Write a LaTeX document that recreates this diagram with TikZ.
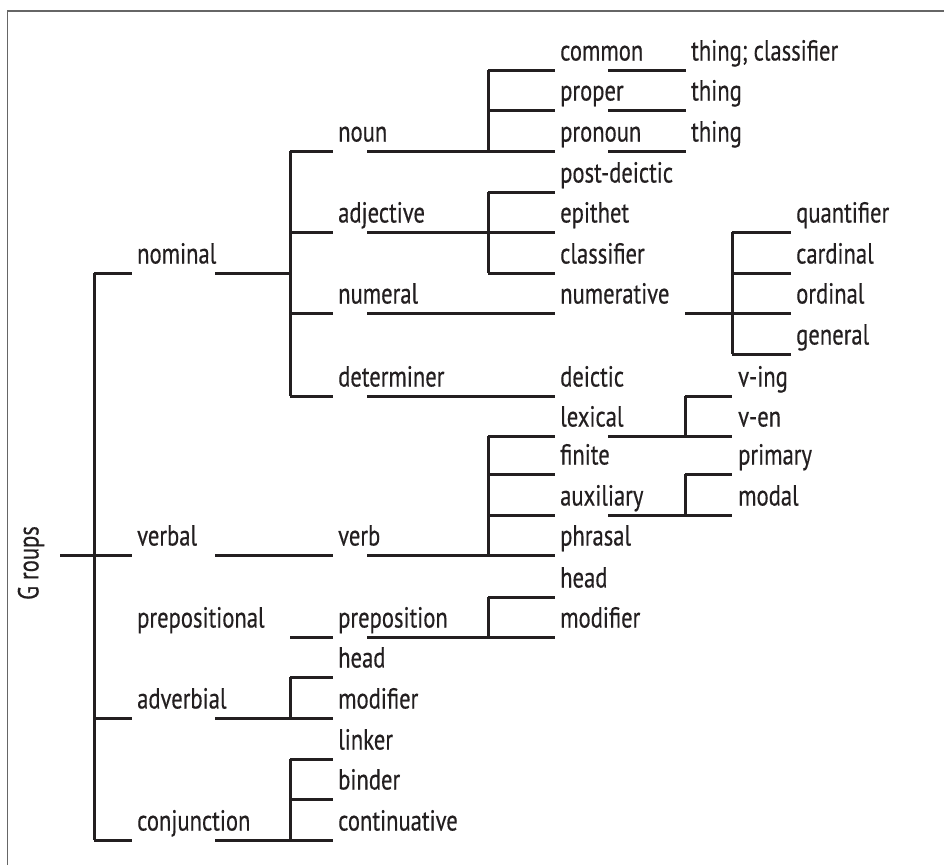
\documentclass[tikz,border=0pt]{standalone}
\usepackage{fontspec}
\setmainfont[FakeStretch=0.78,FakeBold=0.4]{PT Sans}
\definecolor{ink}{HTML}{231F20}
\definecolor{frame}{HTML}{666666}
\begin{document}
\begin{tikzpicture}[x=1pt,y=-1pt,
  lbl/.style={anchor=base west,inner sep=0pt,text=ink,font=\fontsize{29}{32}\selectfont},
  tree/.style={draw=ink,line width=3pt},
  border/.style={draw=frame,line width=1.8pt}]
\useasboundingbox (0,0) rectangle (944,865);
% frame
\draw[border] (7.5,865) -- (7.5,11) -- (944,11);
% title
\node[lbl,anchor=center,rotate=90] (groups) at (31,563) {G roups};
% label placement: baseline 9.5 above line
\newcommand{\Lb}[4]{\node[lbl] (#1) at (#2,#3-9.5) {#4};}
% column A labels
\Lb{nominal}{137}{273}{nominal}
\Lb{verbal}{137}{555}{verbal}
\Lb{prepositional}{137}{637}{prepositional}
\Lb{adverbial}{137}{718}{adverbial}
\Lb{conjunction}{137}{840}{conjunction}
% column B labels
\Lb{noun}{338}{151}{noun}
\Lb{adjective}{338}{232}{adjective}
\Lb{numeral}{338}{313}{numeral}
\Lb{determiner}{338}{396}{determiner}
\Lb{verb}{338}{555}{verb}
\Lb{preposition}{338}{637}{preposition}
\Lb{advhead}{338}{677}{head}
\Lb{advmod}{338}{718}{modifier}
\Lb{linker}{338}{759}{linker}
\Lb{binder}{338}{799}{binder}
\Lb{continuative}{338}{840}{continuative}
% column C labels
\Lb{common}{560}{70}{common}
\Lb{proper}{560}{110}{proper}
\Lb{pronoun}{560}{151}{pronoun}
\Lb{postdeictic}{560}{192}{post-deictic}
\Lb{epithet}{560}{232}{epithet}
\Lb{classifier}{560}{273}{classifier}
\Lb{numerative}{560}{313}{numerative}
\Lb{deictic}{560}{396}{deictic}
\Lb{lexical}{560}{436}{lexical}
\Lb{finite}{560}{474}{finite}
\Lb{auxiliary}{560}{515}{auxiliary}
\Lb{phrasal}{560}{555}{phrasal}
\Lb{prephead}{560}{597}{head}
\Lb{prepmod}{560}{637}{modifier}
% column D labels
\Lb{thingA}{691}{70}{thing; classifier}
\Lb{thingB}{691}{110}{thing}
\Lb{thingC}{691}{151}{thing}
% column E labels
\Lb{ving}{738}{396}{v-ing}
\Lb{ven}{738}{436}{v-en}
\Lb{primary}{738}{474}{primary}
\Lb{modal}{738}{515}{modal}
% column F labels
\Lb{quantifier}{796}{232}{quantifier}
\Lb{cardinal}{796}{273}{cardinal}
\Lb{ordinal}{796}{313}{ordinal}
\Lb{general}{796}{354}{general}
% ---- lines ----
% root
\draw[tree] (60,555) -- (94,555);
\draw[tree] (94,273) -- (94,840);
\foreach \y in {273,555,718,840} \draw[tree] (94,\y) -- (132,\y);
\draw[tree] (215,273) -- (290,273);
\draw[tree] (215,555) -- (333,555);
\draw[tree] (215,718) -- (290,718);
\draw[tree] (215,840) -- (290,840);
% column B verticals and stubs
\draw[tree] (290,151) -- (290,396);
\draw[tree] (290,677) -- (290,718);
\draw[tree] (290,759) -- (290,840);
\foreach \y in {151,232,313,396,637,677,718,759,799,840} \draw[tree] (290,\y) -- (333,\y);
% column B continuation lines
\draw[tree] (367,151) -- (488,151);
\draw[tree] (367,232) -- (488,232);
\draw[tree] (367,313) -- (555,313);
\draw[tree] (367,396) -- (555,396);
\draw[tree] (367,555) -- (488,555);
\draw[tree] (367,637) -- (488,637);
% column C verticals and stubs
\draw[tree] (488,70) -- (488,151);
\draw[tree] (488,192) -- (488,273);
\draw[tree] (488,436) -- (488,555);
\draw[tree] (488,597) -- (488,637);
\foreach \y in {70,110,151,192,232,273,436,474,515,555,597,637} \draw[tree] (488,\y) -- (555,\y);
% column C continuation lines
\foreach \y in {70,110,151} \draw[tree] (608,\y) -- (686,\y);
\draw[tree] (608,436) -- (685,436);
\draw[tree] (608,515) -- (685,515);
\draw[tree] (685,313) -- (732,313);
% column E verticals and stubs
\draw[tree] (685,396) -- (685,436);
\draw[tree] (685,474) -- (685,515);
\foreach \y in {396,436,474,515} \draw[tree] (685,\y) -- (732,\y);
% column F vertical and stubs
\draw[tree] (732,232) -- (732,354);
\foreach \y in {232,273,313,354} \draw[tree] (732,\y) -- (791,\y);
\end{tikzpicture}
\end{document}
